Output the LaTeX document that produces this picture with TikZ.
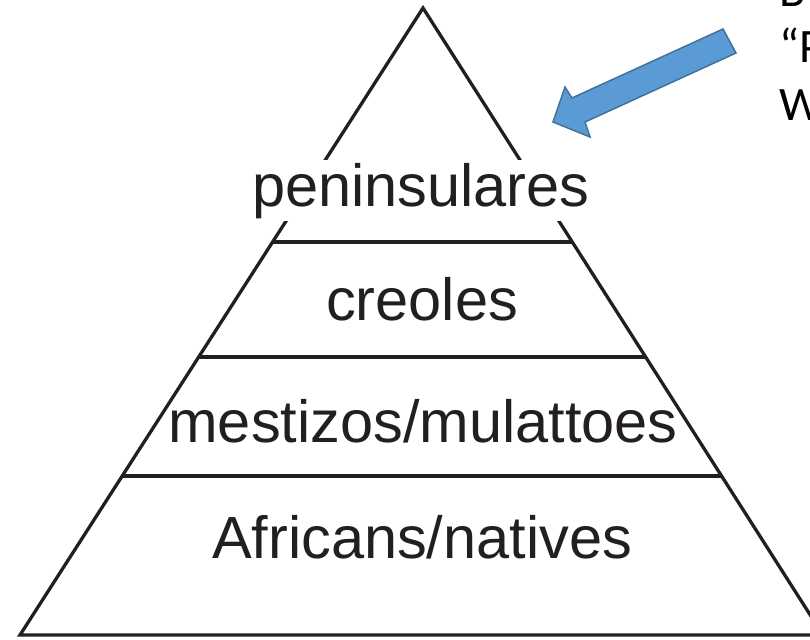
\documentclass[tikz,border=0pt]{standalone}
\usepackage{fontspec}
\setmainfont{Liberation Sans}
\newfontfamily\calib{Carlito}
\usetikzlibrary{calc}
\definecolor{txt}{HTML}{231F20}
\definecolor{arrowfill}{HTML}{5B9BD5}
\definecolor{arrowline}{HTML}{41719C}
\begin{document}
\begin{tikzpicture}[x=1pt,y=-1pt,
  side/.style={line width=3.3pt, draw=txt, line join=miter},
  band/.style={line width=3.3pt, draw=txt},
  layer/.style={anchor=base, text=txt, font=\fontsize{59.5}{70}\selectfont, inner sep=0pt},
  note/.style={anchor=base west, text=black, font=\calib\fontsize{48}{58}\selectfont, inner sep=0pt},
  blockarrow/.style={fill=arrowfill, draw=arrowline, line width=1.5pt, line join=miter}]
\useasboundingbox (0,0) rectangle (810,639);
\begin{scope}
\clip (0,0) rectangle (810,639);
\coordinate (A) at (423,8);
\coordinate (BL) at (20,635);
\coordinate (BR) at (823,635);
\draw[side] (A) -- (BL) -- (BR) -- cycle;
\coordinate (L1) at ($(A)!0.3732!(BL)$);
\coordinate (R1) at ($(A)!0.3732!(BR)$);
\coordinate (L2) at ($(A)!0.5566!(BL)$);
\coordinate (R2) at ($(A)!0.5566!(BR)$);
\coordinate (L3) at ($(A)!0.7464!(BL)$);
\coordinate (R3) at ($(A)!0.7464!(BR)$);
\draw[band] (L1) -- (R1);
\draw[band] (L2) -- (R2);
\draw[band] (L3) -- (R3);
\node[layer, fill=white, inner xsep=2pt, inner ysep=3pt] (pen) at (421,206) {peninsulares};
\node[layer] (cre) at (422,320) {creoles};
\node[layer] (mes) at (423,442) {mestizos/mulattoes};
\node[layer] (afr) at (422,558) {Africans/natives};
\fill[blockarrow] (723,29) -- (736,53) -- (585,122) -- (590,137) -- (553,122) -- (565,87) -- (572,98) -- cycle;
\node[note] (n1) at (779,7) {B};
\node[note] (n2) at (779,63) {“P};
\node[note] (n3) at (779,121) {W};
\end{scope}
\end{tikzpicture}
\end{document}
